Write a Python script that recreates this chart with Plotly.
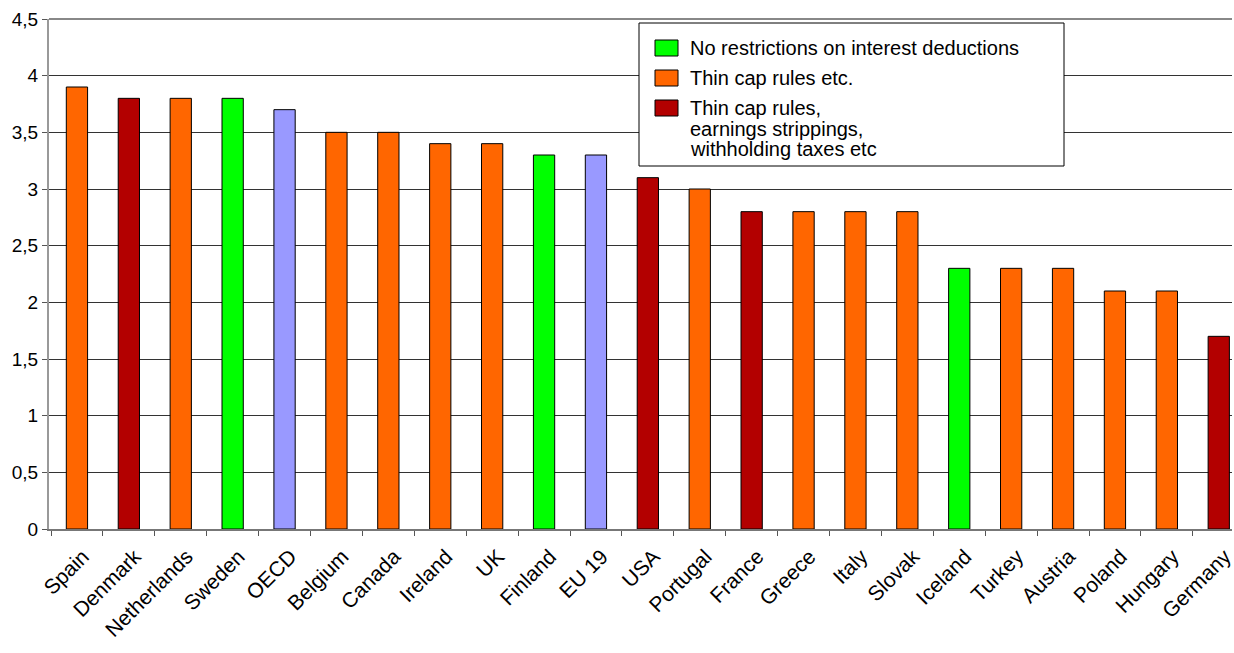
import plotly.graph_objects as go

countries = ["Spain", "Denmark", "Netherlands", "Sweden", "OECD", "Belgium", "Canada",
             "Ireland", "UK", "Finland", "EU 19", "USA", "Portugal", "France", "Greece",
             "Italy", "Slovak", "Iceland", "Turkey", "Austria", "Poland", "Hungary", "Germany"]
values = [3.9, 3.8, 3.8, 3.8, 3.7, 3.5, 3.5, 3.4, 3.4, 3.3, 3.3, 3.1, 3.0, 2.8, 2.8,
          2.8, 2.8, 2.3, 2.3, 2.3, 2.1, 2.1, 1.7]
groups = ["thin", "strip", "thin", "none", "avg", "thin", "thin", "thin", "thin", "none",
          "avg", "strip", "thin", "strip", "thin", "thin", "thin", "none", "thin", "thin",
          "thin", "thin", "strip"]

group_colors = {"none": "#00FF00", "thin": "#FF6600", "strip": "#B30000", "avg": "#9999FF"}
legend_items = [("none", ["No restrictions on interest deductions"]),
                ("thin", ["Thin cap rules etc."]),
                ("strip", ["Thin cap rules,", "earnings strippings,", "withholding taxes etc"])]
ytick_vals = [0, 0.5, 1, 1.5, 2, 2.5, 3, 3.5, 4, 4.5]

fig = go.Figure()
for g in ["thin", "strip", "none", "avg"]:
    xs = [c for c, gg in zip(countries, groups) if gg == g]
    ys = [v for v, gg in zip(values, groups) if gg == g]
    fig.add_trace(go.Bar(x=xs, y=ys, marker=dict(color=group_colors[g],
                                                 line=dict(color="black", width=1)),
                         showlegend=False, width=0.41))

L, R, T, B = 49, 2, 19, 124
W, H = 1234, 653
pw, ph = W - L - R, H - T - B
cat_px = 51.9  # pixel width of one category slot
x0 = -0.5 - 2 / cat_px
x1 = x0 + pw / cat_px

def px_x(p):
    return (p - L) / pw

def px_y(p):
    return 1 - (p - T) / ph

shapes = []
annotations = []
# legend box
shapes.append(dict(type="rect", xref="paper", yref="paper",
                   x0=px_x(639), x1=px_x(1064), y0=px_y(166), y1=px_y(23),
                   line=dict(color="black", width=1), fillcolor="white", layer="above"))
rows = [48, 78, 108]
for (g, lines), yc in zip(legend_items, rows):
    shapes.append(dict(type="rect", xref="paper", yref="paper",
                       x0=px_x(655), x1=px_x(678), y0=px_y(yc + 8), y1=px_y(yc - 8),
                       line=dict(color="black", width=1), fillcolor=group_colors[g],
                       layer="above"))
    for i, line in enumerate(lines):
        annotations.append(dict(xref="paper", yref="paper", x=px_x(688), y=px_y(yc + i * 20.5),
                                xanchor="left", yanchor="middle", align="left", showarrow=False,
                                text=line, font=dict(size=20, color="black")))

fig.update_layout(
    width=W, height=H,
    margin=dict(l=L, r=R, t=T, b=B, autoexpand=False),
    plot_bgcolor="white", paper_bgcolor="white",
    barmode="overlay",
    separators=", ",
    font=dict(family="Liberation Sans, Arial, sans-serif", size=19, color="black"),
    showlegend=False,
    shapes=shapes,
    annotations=annotations,
    xaxis=dict(categoryorder="array", categoryarray=countries, tickangle=-45,
               tickson="boundaries", ticks="outside", ticklen=5, tickcolor="#555",
               showline=True, linecolor="#777", linewidth=2, showgrid=False,
               range=[x0, x1], tickfont=dict(size=21), automargin=False,
               ticklabelshift=6, ticklabelstandoff=5),
    yaxis=dict(range=[0, 4.5], tickvals=ytick_vals, ticks="outside", ticklen=5,
               tickcolor="#555", showline=True, linecolor="#999", linewidth=2,
               showgrid=True, gridcolor="#333", gridwidth=1, zeroline=False,
               tickfont=dict(size=19), automargin=False),
)
fig.add_shape(type="line", xref="paper", yref="paper", x0=0, x1=1, y0=1, y1=1,
              line=dict(color="#888", width=2))

fig.write_html("out.html")
